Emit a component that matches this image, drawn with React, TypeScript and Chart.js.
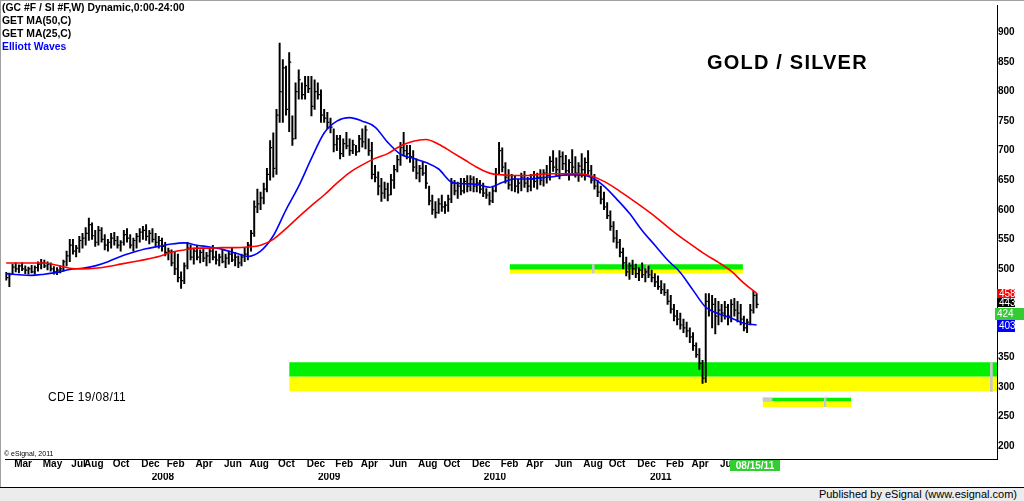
import React, { useEffect, useRef } from 'react';
import { Chart, registerables } from 'chart.js';

Chart.register(...registerables);

// ---------------- data ----------------
const firstWeekDate = '2007-02-05';
const lastDateLabel = '08/15/11';

const lows = [
  481, 470, 490, 495, 493, 497, 492, 491, 493, 491,
  496, 500, 502, 498, 496, 491, 490, 493, 496, 505,
  512, 525, 520, 528, 535, 540, 548, 550, 538, 540,
  545, 532, 530, 535, 540, 535, 530, 540, 545, 535,
  530, 535, 545, 550, 548, 542, 545, 538, 535, 530,
  522, 515, 505, 490, 478, 467, 475, 500, 515, 508,
  515, 510, 512, 505, 510, 515, 508, 505, 510, 502,
  508, 512, 505, 502, 505, 512, 515, 530, 555, 595,
  600, 610, 630, 650, 655, 660, 748, 748, 760, 732,
  709, 720, 787, 787, 787, 798, 759, 770, 787, 748,
  748, 737, 730, 698, 700, 686, 690, 703, 692, 695,
  692, 698, 706, 703, 692, 652, 647, 625, 614, 619,
  615, 625, 636, 664, 675, 692, 686, 680, 665, 652,
  647, 658, 636, 608, 592, 586, 594, 597, 594, 597,
  612, 625, 619, 625, 628, 630, 632, 630, 630, 628,
  622, 619, 608, 612, 630, 660, 664, 645, 635, 632,
  630, 628, 632, 638, 630, 632, 638, 635, 642, 640,
  645, 650, 665, 658, 652, 668, 658, 650, 662, 655,
  648, 655, 650, 660, 645, 635, 622, 610, 600, 585,
  565, 545, 535, 520, 500, 488, 482, 490, 485, 480,
  485, 478, 485, 478, 470, 465, 458, 455, 440, 425,
  412, 405, 398, 392, 385, 375, 362, 350, 330, 306,
  308, 420, 400, 390, 405, 410, 415, 405, 410, 420,
  410, 405, 395, 392, 405, 425, 434,
];

const highs = [
  494, 493, 508, 510, 507, 510, 505, 503, 506, 505,
  512, 516, 515, 512, 510, 504, 502, 505, 515, 530,
  550, 550, 540, 555, 560, 570, 586, 578, 565, 572,
  570, 558, 550, 560, 562, 555, 548, 565, 568, 558,
  552, 560, 568, 572, 575, 565, 568, 560, 555, 552,
  545, 535, 532, 528, 525, 495, 510, 545, 540, 535,
  538, 532, 535, 528, 535, 540, 530, 525, 532, 525,
  530, 535, 528, 522, 525, 535, 545, 565, 615, 635,
  630, 645, 670, 717, 730, 770, 882, 854, 843, 866,
  759, 815, 837, 815, 826, 826, 826, 820, 815, 803,
  770, 765, 755, 737, 726, 726, 720, 731, 720, 718,
  709, 726, 737, 742, 720, 714, 675, 664, 653, 647,
  645, 660, 675, 692, 714, 731, 709, 709, 700, 686,
  675, 681, 675, 640, 625, 614, 619, 625, 614, 625,
  653, 650, 647, 653, 653, 658, 658, 656, 653, 650,
  645, 636, 630, 640, 670, 714, 705, 680, 668, 660,
  658, 652, 662, 665, 655, 660, 665, 662, 668, 668,
  675, 690, 700, 688, 700, 698, 692, 685, 702, 690,
  680, 695, 688, 700, 675, 660, 650, 640, 630, 612,
  598, 580, 565, 550, 535, 520, 510, 515, 508, 502,
  510, 500, 505, 498, 492, 488, 480, 475, 465, 455,
  440, 430, 425, 415, 410, 400, 392, 375, 365, 345,
  458, 458, 455, 450, 445, 440, 445, 440, 448, 450,
  445, 440, 420, 415, 440, 462, 458,
];

const closes = [
  485, 490, 503, 500, 505, 500, 498, 500, 495, 502,
  508, 510, 505, 508, 500, 495, 498, 500, 512, 522,
  540, 530, 535, 548, 552, 560, 575, 556, 545, 565,
  550, 540, 545, 552, 548, 540, 545, 558, 552, 540,
  548, 555, 562, 565, 555, 560, 550, 545, 548, 538,
  528, 530, 510, 500, 485, 480, 505, 535, 520, 530,
  520, 528, 518, 522, 530, 520, 515, 520, 512, 518,
  525, 515, 520, 510, 520, 525, 540, 560, 605, 610,
  620, 635, 660, 705, 670, 760, 800, 840, 770, 850,
  720, 800, 820, 795, 810, 805, 775, 800, 795, 760,
  755, 748, 740, 710, 720, 695, 712, 708, 700, 710,
  698, 720, 715, 735, 700, 660, 655, 640, 628, 635,
  625, 650, 668, 685, 705, 700, 695, 690, 672, 662,
  670, 662, 645, 615, 600, 595, 610, 605, 608, 618,
  645, 632, 640, 632, 648, 640, 652, 640, 645, 635,
  628, 625, 615, 632, 660, 700, 672, 655, 642, 652,
  640, 645, 655, 645, 640, 652, 648, 655, 650, 662,
  658, 682, 672, 668, 690, 678, 666, 680, 672, 662,
  674, 668, 680, 666, 650, 640, 630, 618, 605, 590,
  572, 552, 545, 528, 510, 495, 505, 500, 492, 498,
  490, 495, 490, 485, 478, 470, 465, 460, 445, 432,
  420, 415, 405, 400, 395, 385, 370, 355, 340, 315,
  445, 430, 440, 420, 430, 425, 435, 420, 440, 430,
  425, 415, 400, 410, 430, 455, 440,
];

const maWeeks = [
  0, 4, 8, 12, 16, 20, 24, 28, 32, 36, 40, 44, 48, 52, 56, 60, 64, 68, 72, 76,
  80, 84, 88, 92, 96, 100, 104, 108, 112, 116, 120, 124, 128, 132, 136, 140, 144, 148, 152, 156,
  160, 164, 168, 172, 176, 180, 184, 188, 192, 196, 200, 204, 208, 212, 216, 220, 224, 228, 232, 236,
];
const ma50 = [
  510, 510, 510, 510, 506, 501, 500, 501, 504, 508, 512, 516, 521, 528, 532, 535, 535, 536, 536, 537,
  540, 550, 568, 588, 607, 625, 645, 663, 676, 687, 695, 708, 716, 719, 711, 698, 685, 672, 662, 659,
  658, 658, 660, 661, 661, 661, 657, 648, 635, 620, 605, 589, 571, 554, 539, 524, 511, 496, 476, 459,
];
const ma25 = [
  492, 490, 489, 491, 494, 499, 501, 505, 512, 521, 528, 534, 538, 542, 544, 540, 537, 533, 527, 521,
  530, 556, 600, 640, 687, 730, 750, 756, 750, 740, 714, 694, 687, 680, 669, 647, 644, 643, 638, 646,
  652, 652, 654, 656, 659, 659, 655, 640, 618, 594, 565, 540, 515, 494, 464, 435, 424, 417, 408, 405,
];

const monthTickDates = [
  '2007-03-01', '2007-05-01', '2007-07-01', '2007-08-01', '2007-10-01', '2007-12-01',
  '2008-02-01', '2008-04-01', '2008-06-01', '2008-08-01', '2008-10-01', '2008-12-01',
  '2009-02-01', '2009-04-01', '2009-06-01', '2009-08-01', '2009-10-01', '2009-12-01',
  '2010-02-01', '2010-04-01', '2010-06-01', '2010-08-01', '2010-10-01', '2010-12-01',
  '2011-02-01', '2011-04-01', '2011-06-01',
];
const monthTickLabels = [
  'Mar', 'May', 'Jul', 'Aug', 'Oct', 'Dec',
  'Feb', 'Apr', 'Jun', 'Aug', 'Oct', 'Dec',
  'Feb', 'Apr', 'Jun', 'Aug', 'Oct', 'Dec',
  'Feb', 'Apr', 'Jun', 'Aug', 'Oct', 'Dec',
  'Feb', 'Apr', 'Jun',
];
const yearTickLabels = ['2008', '2009', '2010', '2011'];
const yTickValues = [200, 250, 300, 350, 400, 450, 500, 550, 600, 650, 700, 750, 800, 850, 900];

// target zones (week index span, price levels)
const bandStartWeek = [89, 158.3, 237.9];
const bandEndWeek = [312, 231.7, 265.8];
const bandGreenTop = [342, 508, 282];
const bandMid = [318, 499, 276];
const bandYellowBottom = [293, 492, 266];

const markerStartWeek = [184.2, 201.2, 309.4, 237.9, 257.1];
const markerEndWeek = [185.1, 202.1, 310.3, 241.0, 258.0];
const markerLow = [492, 492, 292, 276, 266];
const markerHigh = [508, 508, 342, 282, 282];

const tagValues = [443, 458, 403, 424];
const tagLabels = ['443', '458', '403', '424'];

// ---------------- helpers ----------------
const FONT = '"Liberation Sans", Arial, Helvetica, sans-serif';
const DAY = 86400000;
const T0 = Date.parse(firstWeekDate + 'T00:00:00Z');
const daysFrom = (s: string) => (Date.parse(s + 'T00:00:00Z') - T0) / DAY;
const monthTickPos = monthTickDates.map((s) => Math.ceil((daysFrom(s) - 4) / 7) - 0.5);
const yearTickPos = yearTickLabels.map((y) => daysFrom(y + '-01-16') / 7);

const X_MIN = -0.31;
const X_MAX = 311.6;
const Y_MIN = 178.2;
const Y_MAX = 946.2;

const TAG_STYLE = [
  { bg: '#000000', left: 997, w: 18, h: 8 },
  { bg: '#ff0000', left: 997, w: 18, h: 9 },
  { bg: '#0000ff', left: 997, w: 18, h: 12 },
  { bg: '#33cc33', left: 995, w: 29, h: 12 },
];

const tagPlugin = {
  id: 'priceTags',
  afterDraw(chart: any) {
    const { ctx } = chart;
    const y = chart.scales.y;
    const x = chart.scales.x;
    ctx.save();
    ctx.textBaseline = 'middle';
    ctx.font = '10px ' + FONT;
    tagValues.forEach((v, k) => {
      const st = TAG_STYLE[k];
      const py = y.getPixelForValue(v);
      const top = Math.round(py - st.h / 2);
      ctx.fillStyle = st.bg;
      ctx.fillRect(st.left, top, st.w, st.h);
      ctx.fillStyle = '#ffffff';
      ctx.textAlign = 'left';
      ctx.fillText(tagLabels[k], st.left + 2, top + st.h / 2 + 0.5);
    });
    const px = x.getPixelForValue(closes.length - 1);
    ctx.fillStyle = '#33cc33';
    ctx.fillRect(Math.round(px - 27), 460, 50, 11);
    ctx.fillStyle = '#ffffff';
    ctx.font = 'bold 10px ' + FONT;
    ctx.textAlign = 'center';
    ctx.fillText(lastDateLabel, Math.round(px - 2), 466);
    ctx.restore();
  },
};

function buildDatasets() {
  const ds: any[] = [];
  ds.push({
    type: 'line', label: 'MA(50,C)',
    data: maWeeks.map((w, k) => ({ x: w, y: ma50[k] })),
    borderColor: '#ff0000', borderWidth: 1.6, pointRadius: 0,
    cubicInterpolationMode: 'monotone', fill: false, order: 1,
  });
  ds.push({
    type: 'line', label: 'MA(25,C)',
    data: maWeeks.map((w, k) => ({ x: w, y: ma25[k] })),
    borderColor: '#0000ff', borderWidth: 1.6, pointRadius: 0,
    cubicInterpolationMode: 'monotone', fill: false, order: 2,
  });
  ds.push({
    type: 'line', label: 'close',
    data: closes.map((c, i) => ({ x: i + 0.38, y: c })),
    showLine: false, pointStyle: 'line', pointRadius: 0.9, pointBorderWidth: 1.2,
    pointBorderColor: '#000', pointBackgroundColor: '#000', order: 3,
  });
  ds.push({
    type: 'bar', label: 'range',
    data: lows.map((l, i) => ({ x: i, y: [l, highs[i]] })),
    backgroundColor: '#000000', borderWidth: 0, barThickness: 1.3, order: 4,
  });
  bandStartWeek.forEach((s, k) => {
    ds.push({
      type: 'line', label: 'zone-green-' + k,
      data: [{ x: s, y: bandGreenTop[k] }, { x: bandEndWeek[k], y: bandGreenTop[k] }],
      fill: { value: bandMid[k] }, backgroundColor: '#00f000',
      borderColor: 'rgba(0,0,0,0)', borderWidth: 1, pointRadius: 0, order: 10,
    });
    ds.push({
      type: 'line', label: 'zone-yellow-' + k,
      data: [{ x: s, y: bandMid[k] }, { x: bandEndWeek[k], y: bandMid[k] }],
      fill: { value: bandYellowBottom[k] }, backgroundColor: '#ffff00',
      borderColor: 'rgba(0,0,0,0)', borderWidth: 1, pointRadius: 0, order: 10,
    });
  });
  markerStartWeek.forEach((s, k) => {
    ds.push({
      type: 'line', label: 'marker-' + k,
      data: [{ x: s, y: markerHigh[k] }, { x: markerEndWeek[k], y: markerHigh[k] }],
      fill: { value: markerLow[k] }, backgroundColor: '#c8c8c8',
      borderColor: 'rgba(0,0,0,0)', borderWidth: 1, pointRadius: 0, order: 9,
    });
  });
  return ds;
}

export default function App() {
  const ref = useRef<HTMLCanvasElement>(null);

  useEffect(() => {
    const canvas = ref.current;
    if (!canvas) return;
    const tickFont = { family: FONT, size: 10, weight: 'bold' as const, lineHeight: 1 };
    const chart = new Chart(canvas, {
      type: 'bar',
      data: { datasets: buildDatasets() },
      options: {
        animation: false,
        responsive: false,
        devicePixelRatio: 1,
        layout: { padding: { left: 2, top: 2, right: 0, bottom: 0 } },
        plugins: { legend: { display: false }, tooltip: { enabled: false } },
        scales: {
          x: {
            type: 'linear', position: 'bottom', min: X_MIN, max: X_MAX, offset: false, weight: 0,
            grid: { display: false, drawTicks: false },
            border: { display: true, color: '#000000', width: 1 },
            ticks: {
              autoSkip: false, maxRotation: 0, minRotation: 0, align: 'start', padding: 0,
              color: '#000000', font: tickFont,
              callback: (_v: any, i: number) => monthTickLabels[i] ?? '',
            },
            afterBuildTicks: (s: any) => { s.ticks = monthTickPos.map((v) => ({ value: v })); },
            afterFit: (s: any) => { s.height = 14; s.paddingLeft = 0; s.paddingRight = 0; },
          },
          x2: {
            type: 'linear', position: 'bottom', min: X_MIN, max: X_MAX, offset: false, weight: 1,
            grid: { display: false, drawTicks: false },
            border: { display: false },
            ticks: {
              autoSkip: false, maxRotation: 0, minRotation: 0, align: 'center', padding: -1,
              color: '#000000', font: tickFont,
              callback: (_v: any, i: number) => yearTickLabels[i] ?? '',
            },
            afterBuildTicks: (s: any) => { s.ticks = yearTickPos.map((v) => ({ value: v })); },
            afterFit: (s: any) => { s.height = 14; s.paddingLeft = 0; s.paddingRight = 0; },
          },
          y: {
            type: 'linear', position: 'right', min: Y_MIN, max: Y_MAX,
            grid: { display: false, drawTicks: false },
            border: { display: true, color: '#000000', width: 1 },
            ticks: {
              padding: 1, crossAlign: 'near', color: '#000000', font: tickFont,
              callback: (v: any) => String(v),
            },
            afterBuildTicks: (s: any) => { s.ticks = yTickValues.map((v) => ({ value: v })); },
            afterFit: (s: any) => { s.width = 27; s.paddingTop = 0; s.paddingBottom = 0; },
          },
        },
      } as any,
      plugins: [tagPlugin],
    });
    return () => chart.destroy();
  }, []);

  const abs = (o: any) => ({ position: 'absolute' as const, whiteSpace: 'nowrap' as const, ...o });

  return (
    <div style={{ position: 'fixed', left: 0, top: 0, width: 1024, height: 501, background: '#ffffff', overflow: 'hidden', fontFamily: FONT, color: '#000' }}>
      <canvas ref={ref} width={1024} height={487} style={{ position: 'absolute', left: 0, top: 0, width: 1024, height: 487 }} />
      <div style={abs({ left: 0, top: 0, width: 1024, height: 1, background: '#a0a0a0' })} />
      <div style={abs({ left: 0, top: 0, width: 1, height: 487, background: '#a0a0a0' })} />
      <div style={abs({ left: 2, top: 1, fontSize: 10.4, fontWeight: 'bold', lineHeight: '13px' })}>
        <div>(GC #F / SI #F,W) Dynamic,0:00-24:00</div>
        <div>GET MA(50,C)</div>
        <div>GET MA(25,C)</div>
        <div style={{ color: '#0000ff' }}>Elliott Waves</div>
      </div>
      <div style={abs({ left: 707, top: 51, fontSize: 20, fontWeight: 'bold', lineHeight: '22px', letterSpacing: '1.2px' })}>GOLD / SILVER</div>
      <div style={abs({ left: 48, top: 390, fontSize: 12, lineHeight: '14px', letterSpacing: '0.3px' })}>CDE 19/08/11</div>
      <div style={abs({ left: 4, top: 449, fontSize: 7, lineHeight: '9px' })}>© eSignal, 2011</div>
      <div style={abs({ left: 0, top: 487, width: 1024, height: 13, borderTop: '1px solid #000', background: '#ececec' })}>
        <div style={abs({ right: 7, top: 0, fontSize: 11, lineHeight: '13px' })}>Published by eSignal (www.esignal.com)</div>
      </div>
    </div>
  );
}
